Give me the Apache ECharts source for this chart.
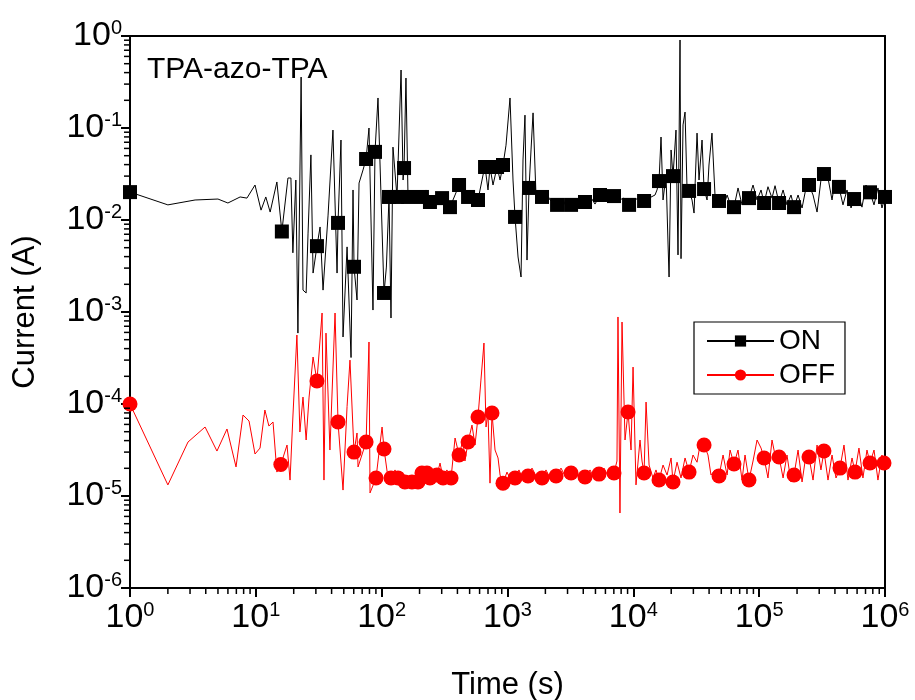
<!DOCTYPE html>
<html>
<head>
<meta charset="utf-8">
<script src="https://cdn.jsdelivr.net/npm/echarts@6/dist/echarts.min.js"></script>
<style>html,body{margin:0;padding:0;background:#fff}#c{width:915px;height:700px}</style>
</head>
<body>
<div id="c"></div>
<script>
// ---- tick labels ----
const xTickExps = ['0','1','2','3','4','5','6'];          // 10^0 .. 10^6
const yTickExps = ['-6','-5','-4','-3','-2','-1','0'];    // 10^-6 .. 10^0
const minorMultipliers = [2,3,4,5,6,7,8,9];
const xDecades = [1,10,100,1e3,1e4,1e5];
const yDecades = [1e-6,1e-5,1e-4,1e-3,1e-2,1e-1];

// ---- ON (black) : line trace [time (s), current (A)] ----
const onLine = [
[1,2.01e-2],[2.0,1.46e-2],[3.29,1.65e-2],[5.0,1.69e-2],[6.0,1.53e-2],[7.5,1.78e-2],[8.5,1.73e-2],[9.85,2.4e-2],
[11.0,1.28e-2],[12.0,1.78e-2],[13.0,1.22e-2],[14.7,2.59e-2],[16.1,7.5e-3],[18.0,2.86e-2],[19.0,2.86e-2],[19.7,4.4e-3],
[20.8,2.72e-2],[21.6,5.9e-4],[22.9,0.358],[23.7,1.73e-3],[25.1,1.61e-3],[26.0,7.2e-3],[27.4,5.1e-2],[28.5,2.65e-3],
[30.6,5.2e-3],[32.4,8.4e-3],[34.2,1.73e-3],[37.5,1.13e-2],[41.0,9.5e-2],[44.2,2.65e-3],[45.0,9.3e-3],[47.5,7.4e-2],
[49.3,5.35e-4],[53.1,5.1e-3],[57.1,3.2e-4],[59.2,2.12e-2],[60.3,3.1e-3],[63.7,1.35e-3],[66.1,2.52e-2],[71.1,3.5e-2],
[75.2,4.6e-2],[79.3,0.1],[85.3,1.05e-3],[88.5,5.5e-2],[93.5,0.212],[104.4,1.61e-3],[109,3.08e-3],[114.4,1.78e-2],
[118.6,8.6e-4],[123,6.2e-2],[132.4,1.78e-2],[142.6,0.427],[148,2.72e-2],[150.6,3.67e-2],[156,0.349],[162,1.78e-2],
[177,2.0e-2],[194,1.65e-2],[209,1.78e-2],[225,2.12e-2],[242,1.57e-2],[270,1.87e-2],[302,1.73e-2],[325,1.49e-2],
[349,1.38e-2],[383,1.87e-2],[412,2.4e-2],[443,1.82e-2],[486,1.78e-2],[532,1.96e-2],[583,1.65e-2],[639,3.08e-2],
[663,3.77e-2],[700,2.12e-2],[726,3.77e-2],[767,2.4e-2],[826,3.77e-2],[873,2.72e-2],[921,3.96e-2],[973,6.5e-2],
[1047,0.212],[1106,2.72e-2],[1148,1.08e-2],[1213,3.96e-3],[1281,2.4e-3],[1328,4.49e-2],[1377,0.138],[1429,3.67e-3],
[1483,2.23e-2],[1538,5.77e-2],[1596,0.146],[1686,1.78e-2],[1881,1.78e-2],[2023,2.0e-2],[2178,1.65e-2],[2477,1.46e-2],
[2713,1.73e-2],[2917,1.42e-2],[3199,1.46e-2],[3508,1.73e-2],[3770,1.42e-2],[4130,1.57e-2],[4529,1.82e-2],[4959,1.49e-2],
[5436,1.87e-2],[5960,1.65e-2],[6535,1.91e-2],[7020,1.82e-2],[7696,1.65e-2],[8437,1.73e-2],[9250,1.46e-2],[10120,1.65e-2],
[11100,1.73e-2],[12170,1.61e-2],[13340,1.73e-2],[14870,1.87e-2],[15420,2.12e-2],[16000,2.65e-2],[16600,7.98e-2],[17220,1.65e-2],
[18200,3.08e-2],[18880,5.35e-3],[19230,2.4e-3],[19950,5.77e-2],[20670,3.0e-2],[21830,9.5e-2],[22650,4.17e-3],[23500,0.905],
[23930,3.8e-3],[24830,0.108],[25760,0.149],[26730,2.12e-2],[27730,2.07e-2],[29270,1.65e-2],[30370,1.19e-2],[32080,8.8e-2],
[33270,2.72e-2],[35160,7.4e-2],[36480,2.17e-2],[38550,1.65e-2],[39920,3.96e-2],[42170,8.8e-2],[44570,1.87e-2],[47970,1.61e-2],
[52600,1.46e-2],[55590,1.87e-2],[59700,1.42e-2],[63100,1.38e-2],[67920,2.23e-2],[73100,1.46e-2],[78700,1.82e-2],[83000,1.73e-2],
[89400,2.4e-2],[96200,1.65e-2],[103500,2.12e-2],[109400,1.53e-2],[117500,2.3e-2],[126500,1.73e-2],[133700,2.36e-2],[143900,1.53e-2],
[154900,2.12e-2],[166400,1.46e-2],[179100,1.87e-2],[189300,1.38e-2],[203700,1.87e-2],[219200,1.35e-2],[235600,2.23e-2],[248900,2.4e-2],
[268000,1.87e-2],[288400,1.22e-2],[309700,2.72e-2],[327300,3.16e-2],[352400,2.86e-2],[379300,1.65e-2],[400900,2.72e-2],[430500,2.29e-2],
[463600,1.46e-2],[499000,2.12e-2],[537000,1.35e-2],[567500,1.69e-2],[611000,1.96e-2],[656000,1.38e-2],[706000,2.4e-2],[760000,2.0e-2],
[818000,1.46e-2],[879000,2.23e-2],[946000,1.35e-2],[1000000,1.78e-2]
];
// ---- ON markers ----
const onMarkers = [
[1,2.01e-2],[16.1,7.5e-3],[30.6,5.2e-3],[45.0,9.3e-3],[60.3,3.1e-3],[75.2,4.6e-2],[88.5,5.5e-2],[104.4,1.61e-3],
[114.4,1.78e-2],[132.4,1.78e-2],[150.6,3.67e-2],[162,1.78e-2],[209,1.78e-2],[242,1.57e-2],[302,1.73e-2],[349,1.38e-2],
[412,2.4e-2],[486,1.78e-2],[583,1.65e-2],[663,3.77e-2],[726,3.77e-2],[826,3.77e-2],[921,3.96e-2],[1148,1.08e-2],
[1483,2.23e-2],[1881,1.78e-2],[2477,1.46e-2],[3199,1.46e-2],[4130,1.57e-2],[5436,1.87e-2],[7020,1.82e-2],[9250,1.46e-2],
[12170,1.61e-2],[16000,2.65e-2],[20670,3.0e-2],[27730,2.07e-2],[36480,2.17e-2],[47970,1.61e-2],[63100,1.38e-2],[83000,1.73e-2],
[109400,1.53e-2],[143900,1.53e-2],[189300,1.38e-2],[248900,2.4e-2],[327300,3.16e-2],[430500,2.29e-2],[567500,1.69e-2],[760000,2.0e-2],
[1000000,1.78e-2]
];

// ---- OFF (red) : line trace [time (s), current (A)] ----
const offLine = [
[1,1.0e-4],[2.0,1.32e-5],[2.89,3.86e-5],[3.95,5.62e-5],[4.91,3.08e-5],[5.9,5.35e-5],[6.96,2.07e-5],[7.91,7.59e-5],
[8.83,6.53e-5],[9.85,2.86e-5],[10.8,3.32e-5],[11.8,8.6e-5],[12.7,5.77e-5],[13.7,6.37e-5],[14.7,1.82e-5],[15.8,2.2e-5],
[17.7,3.58e-5],[18.7,1.49e-5],[19.7,7.22e-5],[21.2,5.62e-4],[22.4,4.96e-5],[23.7,1.19e-4],[25.1,4.06e-5],[26.5,1.19e-4],
[28.5,3.24e-4],[30.6,1.78e-4],[33.6,9.75e-4],[34.8,1.49e-5],[36.1,5.9e-4],[38.8,3.16e-5],[42.6,9.75e-4],[45.0,6.37e-5],
[49.3,1.16e-5],[53.1,9.4e-5],[56,3.0e-4],[60.3,3.0e-5],[63.7,4.84e-5],[64.9,2.07e-5],[75.2,3.86e-5],[79.3,4.72e-4],
[80.8,1.08e-5],[90.2,1.57e-5],[100.7,5.62e-5],[104.4,3.24e-5],[112.3,1.57e-5],[118.6,1.57e-5],[127.7,1.92e-5],[134.9,1.57e-5],
[145,1.82e-5],[153,1.42e-5],[165,1.65e-5],[174,1.42e-5],[184,1.57e-5],[194.5,1.42e-5],[209,1.78e-5],[217,2.12e-5],
[229,1.78e-5],[242,1.57e-5],[256,1.92e-5],[275,1.69e-5],[291,2.28e-5],[307.5,1.57e-5],[330,1.92e-5],[356,1.57e-5],
[383,4.27e-5],[412,2.79e-5],[443,4.06e-5],[459,2.4e-5],[486,3.86e-5],[522,5.9e-5],[552,3.58e-5],[583,7.22e-5],
[615,1.82e-4],[650,4.6e-4],[675,5.62e-5],[700,7.98e-5],[726,1.38e-5],[753,7.98e-5],[796,3.16e-5],[841,2.59e-5],
[873,1.69e-5],[921,1.38e-5],[991,1.82e-5],[1066,1.46e-5],[1148,1.57e-5],[1234,1.92e-5],[1328,1.49e-5],[1456,1.65e-5],
[1566,2.01e-5],[1718,1.57e-5],[1881,1.57e-5],[2023,1.92e-5],[2218,1.49e-5],[2432,1.65e-5],[2663,2.01e-5],[2917,1.57e-5],
[3199,1.78e-5],[3443,2.01e-5],[3770,1.46e-5],[4130,1.61e-5],[4529,1.92e-5],[4959,1.49e-5],[5337,1.73e-5],[5848,2.01e-5],
[6412,1.57e-5],[7020,1.78e-5],[7413,2.4e-5],[7550,8.83e-4],[7830,6.53e-6],[8130,7.78e-4],[8590,4.06e-5],[9080,8.19e-5],
[9590,3.16e-5],[9950,2.52e-4],[10500,1.32e-5],[11300,4.06e-5],[11720,2.4e-5],[12170,1.78e-5],[12620,1.05e-4],[13340,2.17e-5],
[14330,1.57e-5],[15140,1.92e-5],[16000,1.49e-5],[17220,2.17e-5],[18540,1.69e-5],[19950,2.59e-5],[20670,1.42e-5],[22250,2.33e-5],
[23930,1.57e-5],[25760,2.59e-5],[27730,1.82e-5],[29800,2.79e-5],[32080,2.33e-5],[33880,3.58e-5],[36480,3.58e-5],[39200,2.79e-5],
[41400,1.69e-5],[44570,1.92e-5],[47970,1.65e-5],[51640,2.79e-5],[55590,1.69e-5],[58700,3.16e-5],[63100,2.23e-5],[67920,3.16e-5],
[73100,1.49e-5],[77200,2.79e-5],[83000,1.49e-5],[89400,2.4e-5],[96200,4.06e-5],[103500,3.32e-5],[109400,2.59e-5],[117500,1.57e-5],
[126500,4.06e-5],[133700,2.79e-5],[143900,2.65e-5],[154900,1.57e-5],[166400,2.79e-5],[179100,1.42e-5],[189300,1.69e-5],[203700,3.16e-5],
[219200,1.42e-5],[235600,2.79e-5],[248900,2.65e-5],[268000,1.49e-5],[288400,3.58e-5],[309700,1.92e-5],[327300,3.08e-5],[352400,1.49e-5],
[379300,2.79e-5],[408000,1.57e-5],[438700,2.01e-5],[472200,3.58e-5],[508100,1.49e-5],[547000,2.59e-5],[578000,1.82e-5],[621000,3.32e-5],
[668000,1.57e-5],[719000,3.16e-5],[760000,2.28e-5],[818000,3.16e-5],[879000,1.49e-5],[946000,2.79e-5],[982000,2.28e-5],[1000000,1.92e-5]
];
// ---- OFF markers ----
const offMarkers = [
[1,1.0e-4],[15.8,2.2e-5],[30.6,1.78e-4],[45.0,6.37e-5],[60.3,3.0e-5],[75.2,3.86e-5],[90.2,1.57e-5],[104.4,3.24e-5],
[118.6,1.57e-5],[134.9,1.57e-5],[153,1.42e-5],[174,1.42e-5],[194.5,1.42e-5],[209,1.78e-5],[229,1.78e-5],[242,1.57e-5],
[275,1.69e-5],[307.5,1.57e-5],[356,1.57e-5],[412,2.79e-5],[486,3.86e-5],[583,7.22e-5],[753,7.98e-5],[921,1.38e-5],
[1148,1.57e-5],[1456,1.65e-5],[1881,1.57e-5],[2432,1.65e-5],[3199,1.78e-5],[4130,1.61e-5],[5337,1.73e-5],[7020,1.78e-5],
[9080,8.19e-5],[12170,1.78e-5],[16000,1.49e-5],[20670,1.42e-5],[27730,1.82e-5],[36480,3.58e-5],[47970,1.65e-5],[63100,2.23e-5],
[83000,1.49e-5],[109400,2.59e-5],[143900,2.65e-5],[189300,1.69e-5],[248900,2.65e-5],[327300,3.08e-5],[438700,2.01e-5],[578000,1.82e-5],
[760000,2.28e-5],[982000,2.28e-5]
];

const FONT = 'Liberation Sans, Arial, sans-serif';
const chart = echarts.init(document.getElementById('c'), null, {renderer: 'canvas'});

function expOf(v){ return Math.round(Math.log10(v)); }
const richLabel = {
  b: {fontSize: 34, fontFamily: FONT, color: '#000', lineHeight: 36},
  s: {fontSize: 20, fontFamily: FONT, color: '#000', verticalAlign: 'top', lineHeight: 20}
};

const xMinor = [];
xDecades.forEach(d => minorMultipliers.forEach(m => xMinor.push([d*m, 1e-6])));
const yMinor = [];
yDecades.forEach(d => minorMultipliers.forEach(m => yMinor.push([1, d*m])));

function minorTickSeries(data, dir){
  return {
    type: 'custom', coordinateSystem: 'cartesian2d', data: data, clip: false, silent: true, z: 5,
    renderItem: function(params, api){
      const p = api.coord([api.value(0), api.value(1)]);
      const shape = dir === 'x'
        ? {x1: p[0], y1: p[1], x2: p[0], y2: p[1] + 6}
        : {x1: p[0] - 6, y1: p[1], x2: p[0], y2: p[1]};
      return {type: 'line', shape: shape, style: {stroke: '#000', lineWidth: 1.5}};
    }
  };
}

const frameAxis = {
  axisLine: {show: true, lineStyle: {color: '#000', width: 2}},
  axisTick: {show: false}, axisLabel: {show: false}, splitLine: {show: false}
};

chart.setOption({
  animation: false,
  backgroundColor: '#fff',
  textStyle: {fontFamily: FONT},
  title: {
    text: 'TPA-azo-TPA', left: 142, top: 50,
    textStyle: {fontSize: 30, fontWeight: 'normal', color: '#000', fontFamily: FONT}
  },
  legend: {
    data: ['ON', 'OFF'], orient: 'vertical', left: 694, top: 322,
    itemWidth: 67, itemHeight: 14, itemGap: 6,
    padding: [5, 10, 5, 12],
    borderColor: '#000', borderWidth: 1.2, backgroundColor: '#fff',
    textStyle: {fontSize: 28, color: '#000', fontFamily: FONT}
  },
  grid: {left: 130, right: 30, top: 36, bottom: 112, outerBoundsMode: 'none', containLabel: false},
  xAxis: [{
    type: 'log', logBase: 10, min: 1, max: 1e6, splitNumber: 6,
    axisLine: {show: true, lineStyle: {color: '#000', width: 2}},
    axisTick: {show: true, inside: false, length: 9, lineStyle: {color: '#000', width: 2}},
    splitLine: {show: false},
    axisLabel: {
      margin: 12, color: '#000', rich: richLabel,
      formatter: v => '{b|10}{s|' + xTickExps[expOf(v)] + '}'
    },
    name: 'Time (s)', nameLocation: 'middle', nameGap: 82,
    nameTextStyle: {fontSize: 31, color: '#000', fontFamily: FONT}
  }, Object.assign({type: 'log', min: 1, max: 1e6, position: 'top'}, frameAxis)],
  yAxis: [{
    type: 'log', logBase: 10, min: 1e-6, max: 1, splitNumber: 6,
    axisLine: {show: true, lineStyle: {color: '#000', width: 2}},
    axisTick: {show: true, inside: false, length: 9, lineStyle: {color: '#000', width: 2}},
    splitLine: {show: false},
    axisLabel: {
      margin: 8, color: '#000', rich: richLabel,
      formatter: v => '{b|10}{s|' + yTickExps[expOf(v) + 6] + '}'
    },
    name: 'Current (A)', nameLocation: 'middle', nameGap: 89,
    nameTextStyle: {fontSize: 31, color: '#000', fontFamily: FONT}
  }, Object.assign({type: 'log', min: 1e-6, max: 1, position: 'right'}, frameAxis)],
  series: [
    {name: 'ON', type: 'line', data: onLine, showSymbol: false, symbol: 'rect', symbolSize: 14,
     lineStyle: {color: '#000', width: 1}, itemStyle: {color: '#000'}, z: 3},
    {name: 'ON', type: 'scatter', data: onMarkers, symbol: 'rect', symbolSize: 14,
     itemStyle: {color: '#000', opacity: 1}, z: 4},
    {name: 'OFF', type: 'line', data: offLine, showSymbol: false, symbol: 'circle', symbolSize: 15,
     lineStyle: {color: '#ff0000', width: 1}, itemStyle: {color: '#ff0000'}, z: 3},
    {name: 'OFF', type: 'scatter', data: offMarkers, symbol: 'circle', symbolSize: 15,
     itemStyle: {color: '#ff0000', opacity: 1}, z: 4},
    minorTickSeries(xMinor, 'x'),
    minorTickSeries(yMinor, 'y')
  ]
});
</script>
</body>
</html>
